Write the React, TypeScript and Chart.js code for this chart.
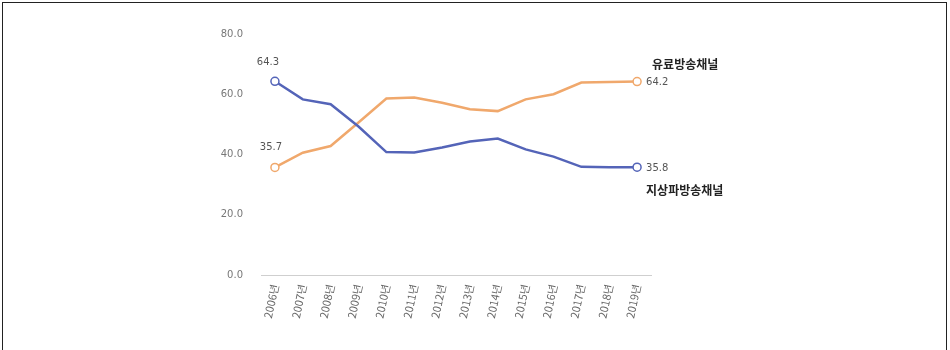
import React, { useEffect, useRef } from "react";
import { Chart, registerables } from "chart.js";

Chart.register(...registerables);

const categories = ["2006년", "2007년", "2008년", "2009년", "2010년", "2011년", "2012년", "2013년", "2014년", "2015년", "2016년", "2017년", "2018년", "2019년"];
const terrestrial = [64.3, 58.3, 56.7, 49.3, 40.8, 40.7, 42.3, 44.3, 45.3, 41.7, 39.3, 35.9, 35.8, 35.8];
const paid = [35.7, 40.6, 42.8, 50.6, 58.6, 58.9, 57.2, 55.0, 54.4, 58.3, 60.0, 63.9, 64.1, 64.2];
const seriesNames = ["지상파방송채널", "유료방송채널"];
const yTicks = [0, 20, 40, 60, 80];

const BLUE = "#5464b8";
const ORANGE = "#f0a86c";

const labelPlugin = {
  id: "endLabels",
  afterDatasetsDraw(chart: any) {
    const ctx = chart.ctx;
    ctx.save();
    ctx.textBaseline = "middle";
    chart.data.datasets.forEach((ds: any, i: number) => {
      const meta = chart.getDatasetMeta(i);
      const first = meta.data[0];
      const last = meta.data[meta.data.length - 1];
      const v0 = ds.data[0];
      const v1 = ds.data[ds.data.length - 1];
      ctx.font = "10px 'DejaVu Sans', sans-serif";
      ctx.fillStyle = "#555";
      ctx.textAlign = "center";
      if (i === 0) {
        ctx.fillText(v0.toFixed(1), first.x - 7, first.y - 19);
      } else {
        ctx.fillText(v0.toFixed(1), first.x - 4, first.y - 20);
      }
      ctx.textAlign = "left";
      ctx.fillText(v1.toFixed(1), last.x + 9, last.y + 1);
      ctx.font = "bold 12px 'Noto Sans CJK KR', sans-serif";
      ctx.fillStyle = "#222";
      if (i === 0) {
        ctx.fillText(seriesNames[0], last.x + 9, last.y + 23);
      } else {
        ctx.fillText(seriesNames[1], last.x + 15, last.y - 17);
      }
    });
    ctx.restore();
  },
};

export default function App() {
  const ref = useRef<HTMLCanvasElement>(null);
  useEffect(() => {
    if (!ref.current) return;
    const n = categories.length;
    const radii = categories.map((_, i) => (i === 0 || i === n - 1 ? 4 : 0));
    const chart = new Chart(ref.current, {
      type: "line",
      data: {
        labels: categories,
        datasets: [
          {
            label: seriesNames[0],
            data: terrestrial,
            borderColor: BLUE,
            backgroundColor: "#ffffff",
            borderWidth: 2.5,
            pointRadius: radii,
            pointBorderWidth: 1.5,
            tension: 0,
          },
          {
            label: seriesNames[1],
            data: paid,
            borderColor: ORANGE,
            backgroundColor: "#ffffff",
            borderWidth: 2.5,
            pointRadius: radii,
            pointBorderWidth: 1.5,
            tension: 0,
          },
        ],
      },
      options: {
        animation: false,
        responsive: false,
        layout: { padding: { left: 200, right: 299, top: 34, bottom: 0 } },
        plugins: { legend: { display: false }, tooltip: { enabled: false } },
        scales: {
          x: {
            offset: true,
            grid: { display: false, drawTicks: false },
            border: { display: true, color: "#cfcfcf", dash: [2, 2] },
            ticks: {
              color: "#666",
              font: { size: 11, family: "'Noto Sans CJK KR', sans-serif" },
              minRotation: 78,
              maxRotation: 78,
              padding: 8,
            },
            afterFit: (s: any) => {
              s.height = 75;
            },
          },
          y: {
            min: 0,
            max: 80,
            afterBuildTicks: (s: any) => {
              s.ticks = yTicks.map((v) => ({ value: v }));
            },
            grid: { display: false, drawTicks: false },
            border: { display: false },
            ticks: {
              color: "#777",
              font: { size: 10, family: "'DejaVu Sans', sans-serif" },
              padding: 18,
              callback: (v: any) => Number(v).toFixed(1),
            },
            afterFit: (s: any) => {
              s.width = 61;
            },
          },
        },
      },
      plugins: [labelPlugin],
    });
    return () => chart.destroy();
  }, []);
  return (
    <div style={{ position: "fixed", left: 0, top: 0, width: 950, height: 350, background: "#fff" }}>
      <div style={{ position: "absolute", left: 2, top: 2, width: 943, height: 348, borderTop: "1px solid #222", borderLeft: "1px solid #222", borderRight: "1px solid #222" }} />
      <canvas ref={ref} width={950} height={350} style={{ position: "absolute", left: 0, top: 0 }} />
    </div>
  );
}
